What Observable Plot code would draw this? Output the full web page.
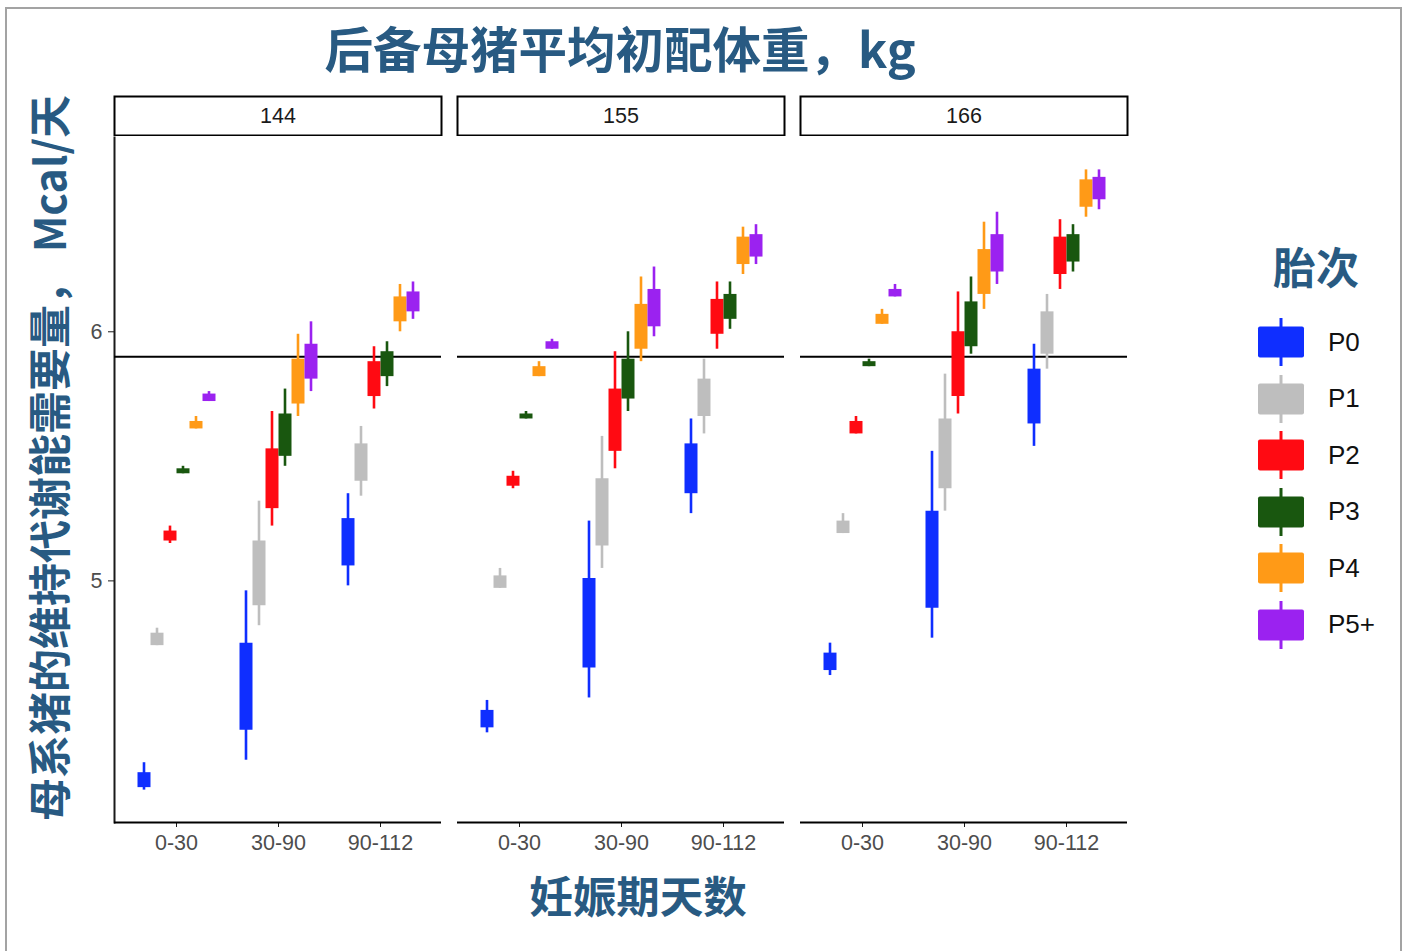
<!DOCTYPE html>
<html>
<head>
<meta charset="utf-8">
<script src="https://cdn.jsdelivr.net/npm/d3@7"></script>
<script src="https://cdn.jsdelivr.net/npm/@observablehq/plot@0.6"></script>
<style>
  body { margin: 0; background: #fff; }
  #page { position: relative; width: 1405px; height: 951px; overflow: hidden; background: #fff;
          font-family: "Liberation Sans", Arial, sans-serif; }
  #border { position: absolute; left: 5px; top: 7px; width: 1393px; height: 980px; border: 2px solid #a3a3a3; }
  .cjk { position: absolute; white-space: nowrap; line-height: 1; font-family: "Noto Sans CJK SC", sans-serif;
         font-weight: 700; color: #285a82; }
  #title  { left: 620px;  top: 47px;  transform: translate(-50%, -50%); font-size: 48.5px; }
  #ytitle { left: 47px;   top: 458px; transform: translate(-50%, -50%) rotate(-90deg); font-size: 43px; }
  #xtitle { left: 638px;  top: 895px; transform: translate(-50%, -50%); font-size: 43.5px; }
  #ltitle { left: 1316px; top: 265px; transform: translate(-50%, -50%); font-size: 43px; }
  #strips { position: absolute; left: 0; top: 95px; }
  #chart  { position: absolute; left: 0; top: 127px; }
  #legend { position: absolute; left: 1255px; top: 314px; }
  .lrow { display: flex; align-items: center; height: 56.5px; }
  .lrow span { margin-left: 21px; font-size: 26px; color: #111; font-family: "Liberation Sans", Arial, sans-serif; }
  #chart svg text { fill: #4d4d4d; }
</style>
</head>
<body>
<div id="page">
  <div id="border"></div>
  <div id="title" class="cjk">后备母猪平均初配体重，kg</div>
  <div id="ytitle" class="cjk">母系猪的维持代谢能需要量， Mcal/天</div>
  <div id="xtitle" class="cjk">妊娠期天数</div>
  <div id="ltitle" class="cjk">胎次</div>
  <div id="strips"></div>
  <div id="chart"></div>
  <div id="legend"></div>
</div>
<script>
// Gilt body weight at first mating (facets), gestation periods and parities
const weights  = [144, 155, 166];
const periods  = ["0-30", "30-90", "90-112"];
const parities = ["P0", "P1", "P2", "P3", "P4", "P5+"];
const colors   = ["#0f2eff", "#bebebe", "#ff0a12", "#19570f", "#ff9a17", "#9b22f0"];
const yTicks   = [5, 6];
const refLine  = 5.9;

// Maintenance ME requirement, Mcal/day: [whisker low, box low, box high, whisker high]
// rows = gestation period, columns = parity
const w144 = [
  [[4.16, 4.17, 4.23, 4.27], [4.74, 4.74, 4.79, 4.81], [5.15, 5.16, 5.20, 5.22], [5.43, 5.43, 5.45, 5.46], [5.61, 5.61, 5.64, 5.66], [5.72, 5.72, 5.75, 5.76]],
  [[4.28, 4.40, 4.75, 4.96], [4.82, 4.90, 5.16, 5.32], [5.22, 5.29, 5.53, 5.68], [5.46, 5.50, 5.67, 5.77], [5.66, 5.71, 5.89, 5.99], [5.76, 5.81, 5.95, 6.04]],
  [[4.98, 5.06, 5.25, 5.35], [5.34, 5.40, 5.55, 5.62], [5.69, 5.74, 5.88, 5.94], [5.78, 5.82, 5.92, 5.96], [6.00, 6.04, 6.14, 6.19], [6.05, 6.08, 6.16, 6.20]]
];
const w155 = [
  [[4.39, 4.41, 4.48, 4.52], [4.97, 4.97, 5.02, 5.05], [5.37, 5.38, 5.42, 5.44], [5.65, 5.65, 5.67, 5.68], [5.82, 5.82, 5.86, 5.88], [5.93, 5.93, 5.96, 5.97]],
  [[4.53, 4.65, 5.01, 5.24], [5.05, 5.14, 5.41, 5.58], [5.45, 5.52, 5.77, 5.92], [5.68, 5.73, 5.89, 6.00], [5.88, 5.93, 6.11, 6.22], [5.98, 6.02, 6.17, 6.26]],
  [[5.27, 5.35, 5.55, 5.65], [5.59, 5.66, 5.81, 5.89], [5.93, 5.99, 6.13, 6.20], [6.01, 6.05, 6.15, 6.20], [6.23, 6.27, 6.38, 6.42], [6.27, 6.30, 6.39, 6.43]]
];
const w166 = [
  [[4.62, 4.64, 4.71, 4.75], [5.19, 5.19, 5.24, 5.27], [5.59, 5.59, 5.64, 5.66], [5.86, 5.86, 5.88, 5.89], [6.03, 6.03, 6.07, 6.09], [6.14, 6.14, 6.17, 6.19]],
  [[4.77, 4.89, 5.28, 5.52], [5.28, 5.37, 5.65, 5.83], [5.67, 5.74, 6.00, 6.16], [5.91, 5.94, 6.12, 6.22], [6.09, 6.15, 6.33, 6.44], [6.19, 6.24, 6.39, 6.48]],
  [[5.54, 5.63, 5.85, 5.95], [5.85, 5.91, 6.08, 6.15], [6.17, 6.23, 6.38, 6.45], [6.24, 6.28, 6.39, 6.43], [6.46, 6.50, 6.61, 6.65], [6.49, 6.53, 6.62, 6.65]]
];

// Long table built from the arrays above
const byWeight = [w144, w155, w166];
const rows = [];
byWeight.forEach((tbl, wi) => tbl.forEach((row, pi) => row.forEach(([lo, q1, q3, hi], ki) => {
  rows.push({weight: weights[wi], period: periods[pi], parity: parities[ki], lo, q1, q3, hi});
})));

const W = 1405, mL = 113, mR = 278;
const fxOpts = {domain: weights, paddingInner: 0.047, paddingOuter: 0, axis: null};
const yDomain = [4.03, 6.78];
const boxW = 13;

// Facet strips
const strips = Plot.plot({
  width: W, height: 41, marginTop: 1, marginBottom: 1, marginLeft: mL, marginRight: mR,
  fx: fxOpts, x: {axis: null}, y: {axis: null},
  style: {background: "transparent", fontFamily: "Liberation Sans, Arial, sans-serif"},
  marks: [
    Plot.frame({stroke: "black", strokeWidth: 2}),
    Plot.text(weights, {fx: d => d, text: d => String(d), frameAnchor: "middle", fontSize: 21.5, fill: "#1a1a1a"})
  ]
});
document.getElementById("strips").appendChild(strips);

// Main faceted chart: whiskers and boxes dodged by parity within each period
const marks = [
  Plot.ruleY([refLine], {stroke: "black", strokeWidth: 2}),
  Plot.ruleY([yDomain[0]], {stroke: "black", strokeWidth: 2})
];
parities.forEach((p, i) => {
  const d = rows.filter(r => r.parity === p);
  const dx = (i - (parities.length - 1) / 2) * boxW;
  marks.push(Plot.ruleX(d, {fx: "weight", x: "period", y1: "lo", y2: "hi", stroke: colors[i], strokeWidth: 2.6, dx}));
  marks.push(Plot.ruleX(d, {fx: "weight", x: "period", y1: "q1", y2: "q3", stroke: colors[i], strokeWidth: boxW, dx}));
});

const chart = Plot.plot({
  width: W, height: 745,
  marginTop: 10, marginBottom: 50, marginLeft: mL, marginRight: mR,
  style: {background: "transparent", fontFamily: "Liberation Sans, Arial, sans-serif", fontSize: "21.5px", color: "#1a1a1a"},
  fx: fxOpts,
  x: {type: "point", domain: periods, padding: 0.6, label: null, tickSize: 5, tickPadding: 7},
  y: {domain: yDomain, ticks: yTicks, tickFormat: d3.format("d"), label: null, tickSize: 6, tickPadding: 6, line: true},
  marks
});
// heavier y axis line, like the panel base lines
d3.select(chart)
  .selectAll('[aria-label$="line"], [aria-label$="line"] *, [aria-label="frame"], [aria-label="frame"] *')
  .attr("stroke-width", 2);
document.getElementById("chart").appendChild(chart);

// Legend keys drawn from the same parity colours
const legend = d3.select("#legend");
parities.forEach((p, i) => {
  const row = legend.append("div").attr("class", "lrow");
  const svg = row.append("svg").attr("width", 52).attr("height", 50);
  svg.append("line").attr("x1", 26).attr("x2", 26).attr("y1", 1).attr("y2", 49)
     .attr("stroke", colors[i]).attr("stroke-width", 3);
  svg.append("rect").attr("x", 3).attr("y", 9.5).attr("width", 46).attr("height", 31).attr("rx", 2)
     .attr("fill", colors[i]);
  row.append("span").text(p);
});
</script>
</body>
</html>
